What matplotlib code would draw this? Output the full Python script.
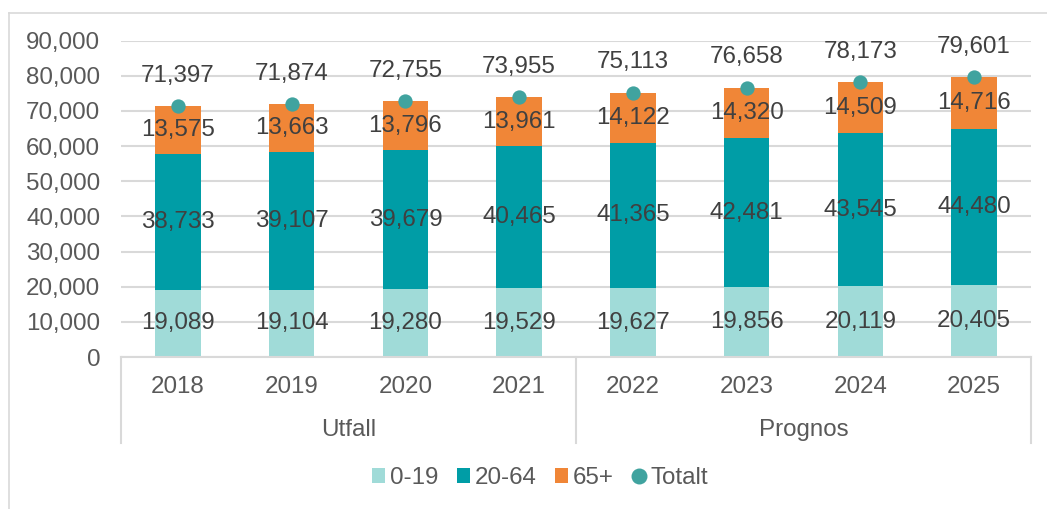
import matplotlib
matplotlib.use("Agg")
import matplotlib.pyplot as plt
from matplotlib.lines import Line2D
from matplotlib.patches import Patch

plt.rcParams['font.family'] = ['Liberation Sans', 'DejaVu Sans']

years = ['2018', '2019', '2020', '2021', '2022', '2023', '2024', '2025']
groups = ['Utfall', 'Prognos']
group_sizes = [4, 4]
age_0_19 = [19089, 19104, 19280, 19529, 19627, 19856, 20119, 20405]
age_20_64 = [38733, 39107, 39679, 40465, 41365, 42481, 43545, 44480]
age_65 = [13575, 13663, 13796, 13961, 14122, 14320, 14509, 14716]
totalt = [71397, 71874, 72755, 73955, 75113, 76658, 78173, 79601]
yticks = [0, 10000, 20000, 30000, 40000, 50000, 60000, 70000, 80000, 90000]

c_young = '#A0DBD8'
c_mid = '#009DA6'
c_old = '#F08637'
c_tot = '#40A39F'
txt = '#595959'
dtxt = '#404040'
grid_c = '#D9D9D9'
FS = 17.4

W, H = 1047, 509
fig = plt.figure(figsize=(W / 100, H / 100), dpi=100)
ax_l, ax_r, ax_t, ax_b = 121, 1031, 40.7, 357
ax = fig.add_axes([ax_l / W, 1 - ax_b / H, (ax_r - ax_l) / W, (ax_b - ax_t) / H])

x = list(range(len(years)))
bw = 0.4
bottoms2 = age_0_19
bottoms3 = [a + b for a, b in zip(age_0_19, age_20_64)]
ax.bar(x, age_0_19, bw, color=c_young, zorder=2)
ax.bar(x, age_20_64, bw, bottom=bottoms2, color=c_mid, zorder=2)
ax.bar(x, age_65, bw, bottom=bottoms3, color=c_old, zorder=2)
ax.plot(x, totalt, linestyle='none', marker='o', markersize=10.3,
        color=c_tot, markeredgewidth=0, zorder=4)

for i in x:
    ax.text(i, age_0_19[i] / 2, f"{age_0_19[i]:,}", ha='center', va='center',
            fontsize=FS, color=dtxt, zorder=5)
    ax.text(i, bottoms2[i] + age_20_64[i] / 2, f"{age_20_64[i]:,}", ha='center',
            va='center', fontsize=FS, color=dtxt, zorder=5)
    ax.text(i, bottoms3[i] + age_65[i] / 2, f"{age_65[i]:,}", ha='center',
            va='center', fontsize=FS, color=dtxt, zorder=5)
    ax.annotate(f"{totalt[i]:,}", (i, totalt[i]), xytext=(0, 22), textcoords='offset points',
                ha='center', va='center', fontsize=FS, color=dtxt, zorder=5)

ax.set_xlim(-0.5, len(years) - 0.5)
ax.set_ylim(0, 90000)
ax.set_yticks(yticks)
ax.set_yticklabels([f"{v:,}" for v in yticks])
ax.yaxis.grid(True, color=grid_c, linewidth=1.5, zorder=0)
ax.set_axisbelow(True)
for s in ['top', 'right', 'left']:
    ax.spines[s].set_visible(False)
ax.spines['bottom'].set_color(grid_c)
ax.spines['bottom'].set_linewidth(1.5)
ax.tick_params(axis='y', length=0, labelsize=FS, labelcolor=txt, pad=15)
ax.set_xticks(x)
ax.set_xticklabels(years)
ax.tick_params(axis='x', length=0, labelsize=FS, labelcolor=txt, pad=21.5)
for lab in ax.get_xticklabels():
    lab.set_va('center')

# multi-level category axis
axh = ax_b - ax_t
sep_bottom = -(443 - ax_b) / axh
grp_y = -(430 - ax_b) / axh
trans = ax.get_xaxis_transform()
pos = -0.5
for g, n in zip(groups, group_sizes):
    ax.plot([pos, pos], [0, sep_bottom], transform=trans, color=grid_c, lw=1.5, clip_on=False)
    ax.text(pos + n / 2, grp_y, g, transform=trans, ha='center', va='center',
            fontsize=FS, color=txt)
    pos += n
ax.plot([pos, pos], [0, sep_bottom], transform=trans, color=grid_c, lw=1.5, clip_on=False)

# outer chart border (top and left visible)
fig.add_artist(Line2D([8.5 / W, 1], [1 - 12.5 / H, 1 - 12.5 / H], color=grid_c, lw=1.2))
fig.add_artist(Line2D([8.5 / W, 8.5 / W], [0, 1 - 12.5 / H], color=grid_c, lw=1.2))

handles = [Patch(facecolor=c_young), Patch(facecolor=c_mid), Patch(facecolor=c_old),
           Line2D([], [], linestyle='none', marker='o', markersize=11.5, color=c_tot,
                  markeredgewidth=0)]
leg = fig.legend(handles, ['0-19', '20-64', '65+', 'Totalt'], loc='center',
                 bbox_to_anchor=(540 / W, 1 - 478 / H), ncol=4, frameon=False,
                 fontsize=FS, handlelength=0.55, handleheight=0.55, handletextpad=0.2,
                 columnspacing=0.75, labelcolor=txt)

fig.savefig('out.png', dpi=100)
